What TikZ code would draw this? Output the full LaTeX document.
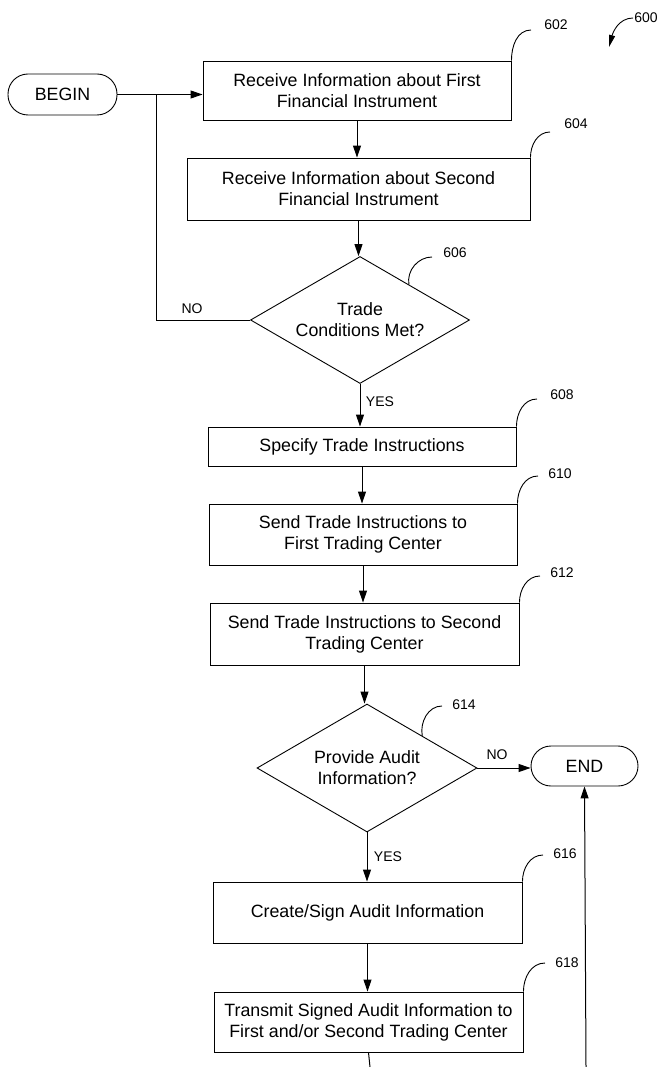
\documentclass[tikz,border=0pt]{standalone}
\usepackage{fontspec}
\setmainfont{Liberation Sans}
\usetikzlibrary{shapes.geometric,arrows.meta,calc}
\begin{document}
\begin{tikzpicture}[x=1pt,y=-1pt,
  every node/.style={font=\fontsize{17.8}{21}\selectfont},
  proc/.style={draw,line width=0.9pt,align=center,inner sep=0pt},
  term/.style={draw,line width=0.9pt,rounded corners=20pt,minimum height=41pt,inner sep=0pt},
  dec/.style={draw,diamond,line width=0.9pt,align=center,inner sep=0pt,aspect=1.72},
  num/.style={font=\fontsize{14}{16}\selectfont,inner sep=1pt},
  yn/.style={font=\fontsize{14}{16}\selectfont,inner sep=1pt},
  flow/.style={line width=1pt,-{Triangle[length=12pt,width=8pt]}},
  lead/.style={line width=0.9pt},
]
\useasboundingbox (0,0) rectangle (658,1067);

% nodes
\node[term,minimum width=109pt] (begin) at (62.5,94.5) {BEGIN};
\node[proc,minimum width=308pt,minimum height=59pt] (b602) at (357,90.5) {Receive Information about First\\Financial Instrument};
\node[proc,minimum width=343pt,minimum height=62pt] (b604) at (358.5,189) {Receive Information about Second\\Financial Instrument};
\node[dec,minimum width=219pt,minimum height=127pt] (d606) at (360,320) {Trade\\Conditions Met?};
\node[proc,minimum width=308pt,minimum height=39pt] (b608) at (362,446.5) {Specify Trade Instructions};
\node[proc,minimum width=308pt,minimum height=61pt] (b610) at (363,534.5) {Send Trade Instructions to\\First Trading Center};
\node[proc,minimum width=309pt,minimum height=62pt] (b612) at (364.5,634) {Send Trade Instructions to Second\\Trading Center};
\node[dec,minimum width=220pt,minimum height=128pt] (d614) at (367,768) {Provide Audit\\Information?};
\node[term,minimum width=107pt,minimum height=40pt] (end) at (584.5,766) {END};
\node[proc,minimum width=309pt,minimum height=61pt] (b616) at (367.5,912.5) {Create/Sign Audit Information};
\node[proc,minimum width=309pt,minimum height=60pt] (b618) at (368.5,1022) {Transmit Signed Audit Information to\\First and/or Second Trading Center};

% reference numerals
\node[num] (l600) at (646,18) {600};
\node[num] (l602) at (556,25) {602};
\node[num] (l604) at (576,124) {604};
\node[num] (l606) at (455,253) {606};
\node[num] (l608) at (562,395) {608};
\node[num] (l610) at (560,474) {610};
\node[num] (l612) at (562,573) {612};
\node[num] (l614) at (464,705) {614};
\node[num] (l616) at (565,854) {616};
\node[num] (l618) at (567,963) {618};

% yes / no labels
\node[yn] (no1) at (192,309) {NO};
\node[yn] (yes1) at (380,402) {YES};
\node[yn] (no2) at (497,755) {NO};
\node[yn] (yes2) at (388,857) {YES};

% coordinates
\coordinate (j) at (156,94.5);
\coordinate (t600) at (609,47);
\coordinate (e602) at (531,30);
\coordinate (e604) at (550,132);
\coordinate (e606) at (432,257);
\coordinate (e608) at (537,399);
\coordinate (e610) at (538,476);
\coordinate (e612) at (540,576);
\coordinate (e614) at (442,706);
\coordinate (e616) at (543,855);
\coordinate (e618) at (545,963);
\coordinate (c1) at (370,1067);
\coordinate (c2) at (586,1067);

% flow
\draw[flow] (begin.east) -- (begin.east -| b602.west);
\draw[flow] (b602.south) -- (b602.south |- b604.north);
\draw[flow] (b604.south) -- (b604.south |- d606.north);
\draw[line width=1pt] (d606.west) -| (j);
\draw[flow] (d606.south) -- (d606.south |- b608.north);
\draw[flow] (b608.south) -- (b608.south |- b610.north);
\draw[flow] (b610.south) -- (b610.south |- b612.north);
\draw[flow] (b612.south) -- (b612.south |- d614.north);
\draw[flow] (d614.east) -- (d614.east -| end.west);
\draw[flow] (d614.south) -- (d614.south |- b616.north);
\draw[flow] (b616.south) -- (b616.south |- b618.north);
\draw[line width=1pt] (b618.south) -- (c1);
\draw[flow] (c2) -- (end.south);

% leaders
\draw[lead,-{Triangle[length=12pt,width=6pt]}] (l600.west) to[out=180,in=75] (t600);
\draw[lead] (b602.north east) to[out=90,in=180] (e602);
\draw[lead] (b604.north east) to[out=90,in=180] (e604);
\draw[lead] ($(d606.north)!0.445!(d606.east)$) to[out=100,in=180] (e606);
\draw[lead] (b608.north east) to[out=90,in=180] (e608);
\draw[lead] (b610.north east) to[out=90,in=180] (e610);
\draw[lead] (b612.north east) to[out=90,in=180] (e612);
\draw[lead] ($(d614.north)!0.5!(d614.east)$) to[out=100,in=180] (e614);
\draw[lead] (b616.north east) to[out=90,in=180] (e616);
\draw[lead] (b618.north east) to[out=90,in=180] (e618);
\end{tikzpicture}
\end{document}
